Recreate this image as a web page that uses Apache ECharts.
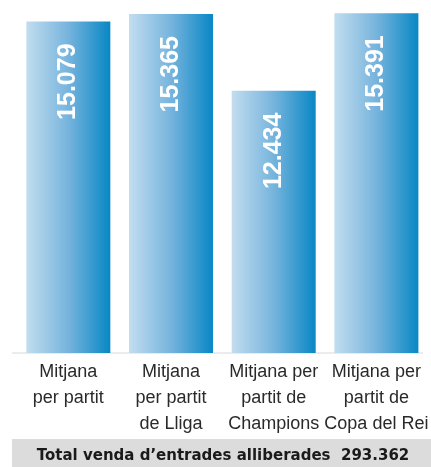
<!DOCTYPE html>
<html>
<head>
<meta charset="utf-8">
<style>
  html, body { margin: 0; padding: 0; background: #ffffff; }
  #chart { width: 431px; height: 467px; }
</style>
<script src="https://cdn.jsdelivr.net/npm/echarts@6/dist/echarts.min.js"></script>
</head>
<body>
<div id="chart"></div>
<script>
// Average attendance of released tickets per match type
const categories = [
  'Mitjana\nper partit',
  'Mitjana\nper partit\nde Lliga',
  'Mitjana per\npartit de\nChampions',
  'Mitjana per\npartit de\nCopa del Rei'
];
const averages = [15079, 15365, 12434, 15391];
const totalLabel = 'Total venda d\u2019entrades alliberades  293.362';

// Catalan thousands separator
function fmt(v) {
  return String(v).replace(/\B(?=(\d{3})+(?!\d))/g, '.');
}

const chart = echarts.init(document.getElementById('chart'), null, { renderer: 'canvas' });

const barFill = new echarts.graphic.LinearGradient(0, 0, 1, 0, [
  { offset: 0, color: '#c2ddef' },
  { offset: 0.5, color: '#76b4dd' },
  { offset: 1, color: '#0887c5' }
]);

chart.setOption({
  animation: false,
  backgroundColor: '#ffffff',
  grid: { left: 17, right: 0, top: 0, bottom: 114 },
  xAxis: {
    type: 'category',
    data: categories,
    axisLine: { show: false },
    axisTick: { show: false },
    axisLabel: {
      interval: 0,
      margin: 6,
      fontFamily: 'Liberation Sans, Arial, sans-serif',
      fontSize: 18,
      lineHeight: 26,
      color: '#2a2a2a',
      align: 'center'
    }
  },
  yAxis: {
    type: 'value',
    min: 2400,
    max: 15900,
    show: false,
    splitLine: { show: false }
  },
  series: [{
    type: 'bar',
    data: averages,
    barWidth: 84,
    itemStyle: { color: barFill },
    label: {
      show: true,
      position: 'insideTop',
      distance: 22,
      rotate: 90,
      align: 'right',
      verticalAlign: 'middle',
      formatter: p => fmt(p.value),
      color: '#ffffff',
      fontFamily: 'Liberation Sans, Arial, sans-serif',
      fontWeight: 'bold',
      fontSize: 25
    }
  }],
  graphic: [
    {
      type: 'line',
      shape: { x1: 12, y1: 353, x2: 423, y2: 353 },
      style: { stroke: '#d8d8d8', lineWidth: 1 },
      silent: true
    },
    {
      type: 'rect',
      shape: { x: 12, y: 439, width: 419, height: 28 },
      style: { fill: '#dcdcdc' },
      silent: true
    },
    {
      type: 'text',
      style: {
        text: totalLabel,
        x: 223,
        y: 456,
        align: 'center',
        verticalAlign: 'middle',
        fill: '#1a1a1a',
        font: 'bold 15px "DejaVu Sans", sans-serif'
      },
      silent: true
    }
  ]
});
</script>
</body>
</html>
